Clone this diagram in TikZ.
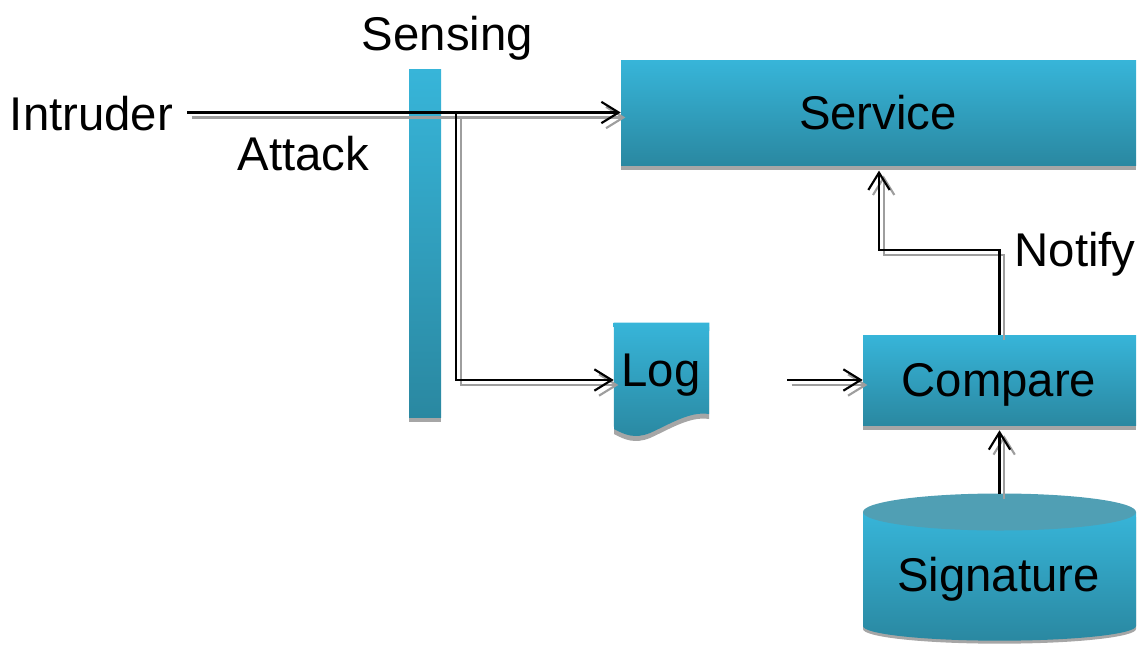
\documentclass[tikz,border=0pt]{standalone}
\usepackage{fontspec}
\setmainfont{Liberation Sans}
\usetikzlibrary{arrows.meta,shadows}
\definecolor{ctop}{HTML}{37B5D9}
\definecolor{cbot}{HTML}{2A88A1}
\definecolor{cyltop}{HTML}{509FB4}
\definecolor{shgray}{HTML}{A6A6A6}
\definecolor{lgray}{HTML}{9E9E9E}
\begin{document}
\begin{tikzpicture}[x=0.75pt,y=-0.75pt,
  lbl/.style={font=\fontsize{35.5}{42}\selectfont, inner sep=0pt, anchor=base},
  boxshape/.style={shape=rectangle, inner sep=0pt, top color=ctop, bottom color=cbot,
    drop shadow={shadow xshift=0pt, shadow yshift=-3.75pt, fill=shgray, opacity=1}},
  ghost/.style={shape=rectangle, inner sep=0pt, draw=none},
  conn/.style={draw=black, line width=1.6pt, -{Straight Barb[length=13pt,width=16pt,line width=1.6pt]}},
  connsh/.style={draw=lgray, line width=1.6pt, -{Straight Barb[length=13pt,width=16pt,line width=1.6pt]},
    transform canvas={shift={(3.5pt,-3.75pt)}}}
]
\useasboundingbox (0,0) rectangle (1143,644);

% boxes
\node[boxshape, minimum width=386.25pt, minimum height=78.75pt] (srv) at (878.5,112.5) {};
\node[boxshape, minimum width=204.75pt, minimum height=67.5pt] (cmp) at (999.5,380) {};
\node[boxshape, minimum width=24pt, minimum height=261pt] (sens) at (425,243) {};

% log document
\node[ghost, minimum width=71.25pt, minimum height=85.5pt] (log) at (661.5,380) {};
\fill[shgray] (614,327) -- (709,327) -- (709,419)
  .. controls (690,416) and (670,429) .. (650,438)
  .. controls (635,444) and (625,440) .. (614,434) -- cycle;
\shade[top color=ctop, bottom color=cbot] (log.north west) -- (log.north east) -- (709,414)
  .. controls (690,411) and (670,424) .. (650,433)
  .. controls (635,439) and (625,435) .. (614,429) -- cycle;

% signature cylinder
\node[ghost, minimum width=204.75pt, minimum height=110.25pt] (sig) at (999.5,567.5) {};
\fill[shgray] (863,517) -- (863,629) arc[start angle=180,end angle=360,x radius=102.375pt,y radius=11pt] -- (1136,517) -- cycle;
\shade[top color=ctop, bottom color=cbot] (863,512) -- (863,626) arc[start angle=180,end angle=360,x radius=102.375pt,y radius=11pt] -- (1136,512) -- cycle;
\fill[cyltop] (999.5,512) ellipse[x radius=102.375pt, y radius=13.875pt];

% texts
\node[lbl] (tsens) at (447.5,50) {Sensing};
\node[lbl] (tintr) at (91.5,130) {Intruder};
\node[lbl] (tatk) at (303.5,170) {Attack};
\node[lbl] (tsrv) at (878,129) {Service};
\node[lbl] (tlog) at (661,386) {Log};
\node[lbl] (tcmp) at (999,396) {Compare};
\node[lbl] (tnot) at (1075,266) {Notify};
\node[lbl] (tsig) at (998.5,591) {Signature};

% coordinates
\coordinate (a0) at (187,112.5);
\coordinate (br) at (456,112.5);
\coordinate (l0) at (787,380);
\coordinate (nt) at (879,250);

% connector shadows
\draw[connsh] (a0) -- (srv.west);
\draw[connsh] (br) |- (log.west);
\draw[connsh] (l0) -- (cmp.west);
\draw[connsh] (cmp.north) |- (nt) -- ([yshift=-4pt]nt|-srv.south);
\draw[connsh] (sig.north) -- ([yshift=-3.75pt]cmp.south);
% connectors
\draw[conn] (a0) -- (srv.west);
\draw[conn] (br) |- (log.west);
\draw[conn] (l0) -- (cmp.west);
\draw[conn] (cmp.north) |- (nt) -- ([yshift=-4pt]nt|-srv.south);
\draw[conn] (sig.north) -- ([yshift=-3.75pt]cmp.south);
\end{tikzpicture}
\end{document}
